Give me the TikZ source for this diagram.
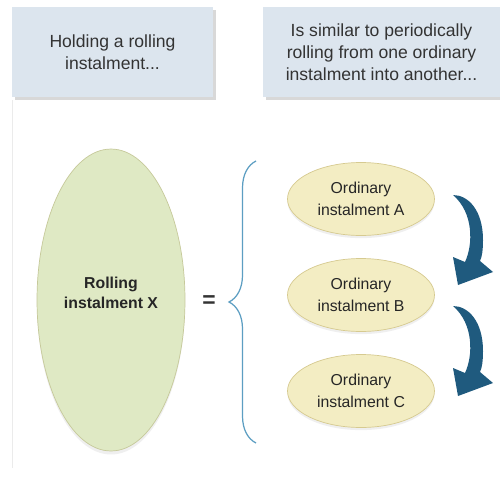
\documentclass[tikz,border=0pt]{standalone}
\usepackage{fontspec}
\setmainfont{Liberation Sans}
\usetikzlibrary{shapes.geometric, shadows, decorations.pathreplacing, positioning}
\definecolor{headfill}{HTML}{DCE5EE}
\definecolor{bigfill}{HTML}{DFE9C4}
\definecolor{bigedge}{HTML}{C6C99A}
\definecolor{smallfill}{HTML}{F3EDC3}
\definecolor{smalledge}{HTML}{D6CA90}
\definecolor{arrowblue}{HTML}{1F5A7E}
\definecolor{bracecol}{HTML}{5C9EC2}
\tikzset{header/.style={fill=headfill,minimum height=1.8cm,inner sep=0pt,align=center,text=black!80,font=\fontsize{10}{12.6}\selectfont,drop shadow={shadow xshift=1.5pt,shadow yshift=-1.5pt,opacity=0.3}},
         rolling/.style={ellipse,draw=bigedge,fill=bigfill,minimum width=2.96cm,minimum height=6.04cm,inner sep=0pt,text depth=8pt,align=center,text=black!85,font=\bfseries\fontsize{9}{11.3}\selectfont,drop shadow={shadow xshift=0pt,shadow yshift=-2pt,opacity=0.12}},
         ordinary/.style={ellipse,draw=smalledge,fill=smallfill,minimum width=2.94cm,minimum height=1.46cm,inner sep=0pt,align=center,text=black!85,font=\fontsize{9}{12.4}\selectfont,drop shadow={shadow xshift=0pt,shadow yshift=-1.5pt,opacity=0.12}},
         brace line/.style={draw=bracecol,line width=0.7pt,decorate,decoration={brace,amplitude=0.54cm}},
         roll arrow/.pic={\fill[arrowblue](0,0).. controls (15,0) and (30,15) .. (30,45)
             .. controls (30,55) and (29,62) .. (27,66)--(40,77)--(5,90)--(0,62)--(12,67)
             .. controls (20,50) and (21,18) .. (0,0)--cycle;}}

\begin{document}
\begin{tikzpicture}[x=0.02cm,y=-0.02cm]
        \useasboundingbox[fill=white](0,0)rectangle(500,477);
        \draw[black!8](12,100)--(12,468);
        % headers
        \node[header,minimum width=4.02cm](hold)at(112.5,52){Holding a rolling\\instalment...};
        \node[header,minimum width=4.74cm](similar)at(381.5,52){Is similar to periodically\\rolling from one ordinary\\instalment into another...};
        % left side
        \node[rolling](x)at(111,300){Rolling\\instalment X};
        \node[font=\bfseries\fontsize{13}{13}\selectfont,text=black!80](eq)at(209,302){=};
        % brace and ordinary instalments
        \coordinate(bt)at(256,161);
        \coordinate(bb)at(256,443);
        \draw[brace line](bb)--(bt);
        \node[ordinary](a)at(361,199){Ordinary\\instalment A};
        \node[ordinary](b)at(361,295){Ordinary\\instalment B};
        \node[ordinary](c)at(361,391){Ordinary\\instalment C};
        \pic at(453,195){roll arrow};
        \pic at(453,306){roll arrow};
    \end{tikzpicture}
\end{document}
